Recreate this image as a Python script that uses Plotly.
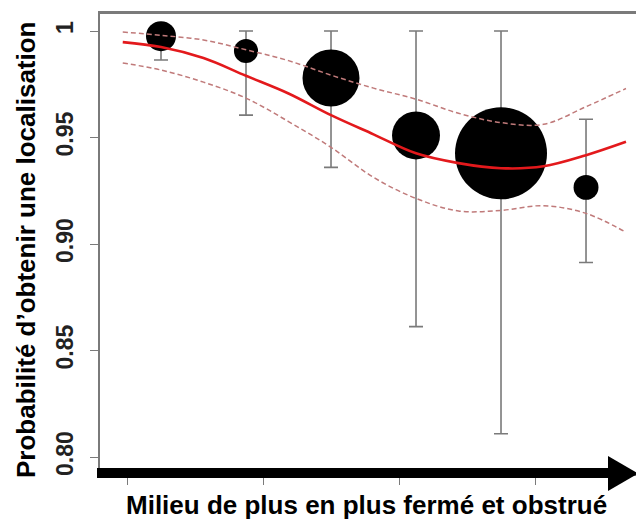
import plotly.graph_objects as go

# site categories (ordered from open to closed) and observed localisation rate
site_x = [1, 2, 3, 4, 5, 6]
site_prob = [0.9976, 0.9906, 0.978, 0.951, 0.9426, 0.9266]
site_upper = [1.0, 1.0, 1.0, 1.0, 1.0, 0.9586]
site_lower = [0.9864, 0.9605, 0.936, 0.8612, 0.8109, 0.8913]
site_n = [90, 58, 325, 230, 846, 62]  # sample size -> bubble area

# fitted model and its confidence band
fit_x = [0.55, 1.0, 1.5, 2.0, 2.5, 3.0, 3.5, 4.0, 4.5, 5.0, 5.5, 6.0, 6.47]
fit_y = [0.9948, 0.9925, 0.9873, 0.979, 0.9707, 0.9605, 0.9515, 0.9426,
         0.938, 0.9356, 0.9365, 0.9417, 0.948]
fit_hi = [0.9995, 0.998, 0.9958, 0.9912, 0.9861, 0.9793, 0.9732, 0.968,
          0.9614, 0.957, 0.9562, 0.9645, 0.973]
fit_lo = [0.985, 0.9817, 0.976, 0.9685, 0.9575, 0.9454, 0.9313, 0.9214,
          0.9155, 0.9158, 0.918, 0.9144, 0.9055]

y_ticks = [0.80, 0.85, 0.90, 0.95, 1.0]
y_ticktext = ["0.80", "0.85", "0.90", "0.95", "1"]
x_ticks = [0.6, 2.2, 3.8, 5.4]

W, H = 636, 523
L, R, T, B = 100, 0, 14, 50
PW, PH = W - L - R, H - T - B

FONT = "Liberation Sans, Arial, sans-serif"
GRAY = "#7a7a7a"


def px_x(p):
    return (p - L) / PW


def px_y(p):
    return (H - B - p) / PH


fig = go.Figure()

fig.add_trace(
    go.Scatter(
        x=site_x,
        y=site_prob,
        mode="markers",
        marker=dict(size=1, color="rgba(0,0,0,0)"),
        error_y=dict(
            type="data",
            symmetric=False,
            array=[u - p for u, p in zip(site_upper, site_prob)],
            arrayminus=[p - lo for p, lo in zip(site_prob, site_lower)],
            color=GRAY,
            thickness=1.6,
            width=7,
        ),
        showlegend=False,
    )
)
fig.add_trace(
    go.Scatter(
        x=site_x,
        y=site_prob,
        mode="markers",
        marker=dict(size=site_n, sizemode="area", sizeref=0.2, color="black",
                    opacity=1, line=dict(width=0)),
        showlegend=False,
    )
)
for band in (fit_hi, fit_lo):
    fig.add_trace(
        go.Scatter(
            x=fit_x,
            y=band,
            mode="lines",
            line=dict(color="#c07a7a", width=1.5, dash="5px,3px", shape="spline"),
            showlegend=False,
        )
    )
fig.add_trace(
    go.Scatter(
        x=fit_x,
        y=fit_y,
        mode="lines",
        line=dict(color="#e3191c", width=2.6, shape="spline"),
        showlegend=False,
    )
)

# thick arrow along the bottom
fig.add_shape(type="line", xref="paper", yref="paper",
              x0=px_x(97), x1=px_x(612), y0=px_y(473), y1=px_y(473),
              line=dict(color="black", width=10))
fig.add_shape(type="path", xref="paper", yref="paper",
              path=f"M {px_x(608)} {px_y(456)} L {px_x(608)} {px_y(491)} "
                   f"L {px_x(638)} {px_y(473.5)} Z",
              fillcolor="black", line=dict(width=0))

fig.add_annotation(
    text="Probabilité d’obtenir une localisation",
    xref="paper", yref="paper", x=px_x(26), y=px_y(250),
    xanchor="center", yanchor="middle", textangle=-90, showarrow=False,
    font=dict(family=FONT, size=26, color="black", weight="bold"),
)
fig.add_annotation(
    text="Milieu de plus en plus fermé et obstrué",
    xref="paper", yref="paper", x=px_x(366), y=px_y(505),
    xanchor="center", yanchor="middle", showarrow=False,
    font=dict(family=FONT, size=26, color="black", weight="bold"),
)

fig.update_layout(
    width=W,
    height=H,
    margin=dict(l=L, r=R, t=T, b=B),
    paper_bgcolor="white",
    plot_bgcolor="white",
    xaxis=dict(
        range=[0.2824, 6.588],
        showgrid=False,
        zeroline=False,
        showline=True,
        mirror=True,
        linecolor=GRAY,
        linewidth=2.5,
        tickvals=x_ticks,
        ticks="outside",
        ticklen=9,
        tickcolor=GRAY,
        showticklabels=False,
    ),
    yaxis=dict(
        range=[0.7925, 1.008],
        showgrid=False,
        zeroline=False,
        showline=True,
        linecolor=GRAY,
        linewidth=2,
        tickvals=y_ticks,
        ticktext=y_ticktext,
        ticks="outside",
        ticklen=8,
        tickcolor=GRAY,
        tickangle=-90,
        ticklabelstandoff=8,
        tickfont=dict(family=FONT, size=23, color="#222", weight="bold"),
    ),
)

# drop the browser's default body margin so the figure sits at the page corner
fig.write_html(
    "out.html",
    config={"displayModeBar": False},
    post_script="document.body.style.margin = '0';",
)
